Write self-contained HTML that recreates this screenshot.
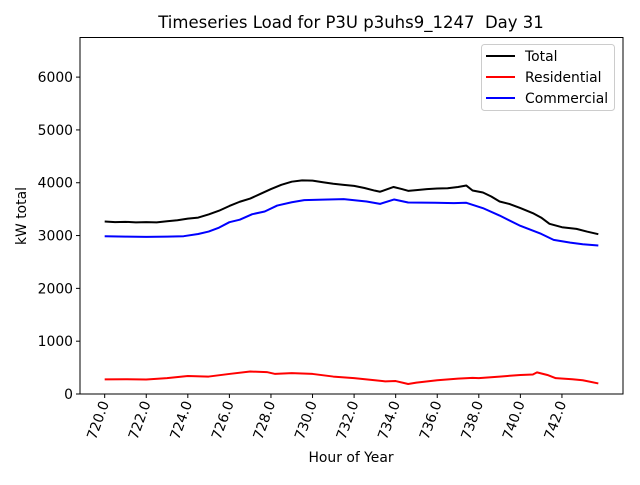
<!DOCTYPE html>
<html><head><meta charset="utf-8"><style>
body{margin:0;background:#fff}
svg{font-family:"DejaVu Sans","Liberation Sans",sans-serif}
</style></head><body>
<svg width="640" height="480" viewBox="0 0 640 480" xmlns="http://www.w3.org/2000/svg">
<rect width="640" height="480" fill="#fff"/>
<text x="351" y="28" font-size="16.5" text-anchor="middle" style="white-space:pre">Timeseries Load for P3U p3uhs9_1247&#160; Day 31</text>
<g id="plot"></g>
<text transform="translate(26,216) rotate(-90)" font-size="13.9" text-anchor="middle">kW total</text>
<text x="351" y="462" font-size="13.9" text-anchor="middle">Hour of Year</text>
<g>
<rect x="481.5" y="44.5" width="133" height="66" rx="3" fill="#fff" stroke="#ccc"/>
<g><line x1="486" y1="56" x2="515" y2="56" stroke="#000" stroke-width="2"/><text x="525" y="61" font-size="13.9">Total</text></g>
<g><line x1="486" y1="77" x2="515" y2="77" stroke="#f00" stroke-width="2"/><text x="525" y="82" font-size="13.9">Residential</text></g>
<g><line x1="486" y1="98" x2="515" y2="98" stroke="#00f" stroke-width="2"/><text x="525" y="103" font-size="13.9">Commercial</text></g>
</g>
</svg>
<script>
const totalHours=[720,720.5,721,721.5,722,722.5,723,723.5,724,724.5,725,725.5,726,726.5,727,727.5,728,728.5,729,729.5,730,730.5,731,731.5,732,732.5,733,733.25,733.9,734.3,734.6,735,735.5,736,736.5,737,737.4,737.7,738.2,738.6,739,739.5,740,740.6,741,741.4,742,742.7,743.2,743.75];
const totalValues=[3265,3255,3260,3250,3255,3250,3270,3290,3320,3340,3400,3470,3560,3640,3700,3790,3880,3960,4020,4045,4040,4010,3980,3960,3940,3900,3850,3830,3920,3880,3847,3860,3880,3890,3895,3920,3947,3853,3815,3740,3645,3595,3520,3424,3340,3222,3158,3127,3076,3026];
const commHours=[720,721,722,723,723.8,724.5,725,725.5,726,726.5,727.1,727.7,728.3,729,729.6,730.5,731.5,732.6,733.25,733.93,734.6,735.9,736.8,737.4,738.2,739,740,741,741.6,742.4,743,743.75];
const commValues=[2988,2980,2975,2980,2988,3030,3076,3150,3253,3300,3405,3455,3568,3630,3670,3680,3689,3645,3600,3683,3626,3620,3615,3620,3519,3379,3184,3032,2918,2867,2836,2811];
const resHours=[720,721,722,723,724,725,726,727,727.8,728.2,729,730,731,732,733,733.5,734,734.6,735,736,737,737.7,738,739,740,740.6,740.8,741.3,741.7,742.5,743,743.75];
const resValues=[277,280,275,300,340,330,380,425,415,380,395,380,330,300,260,240,245,190,215,260,290,305,300,330,360,370,410,360,300,280,260,200];
const xTicks=[720,722,724,726,728,730,732,734,736,738,740,742];
const yTicks=[0,1000,2000,3000,4000,5000,6000];
const X0=80,X1=623,Y0=394,Y1=37.5,XMIN=718.8125,XMAX=744.9375,YMIN=0,YMAX=6750;
function sx(h){return X0+(h-XMIN)/(XMAX-XMIN)*(X1-X0);}
function sy(v){return Y0-(v-YMIN)/(YMAX-YMIN)*(Y0-Y1);}
const NS='http://www.w3.org/2000/svg';
const g=document.getElementById('plot');
function mk(t,a,p){const e=document.createElementNS(NS,t);for(const k in a)e.setAttribute(k,a[k]);(p||g).appendChild(e);return e;}
function series(hs,vs,col,name){
  const d=hs.map((h,i)=>(i?'L':'M')+sx(h).toFixed(2)+','+sy(vs[i]).toFixed(2)).join('');
  const p=mk('path',{d:d,fill:'none',stroke:col,'stroke-width':2,'stroke-linejoin':'round'});
  
  
}
series(totalHours,totalValues,'#000','total-line');
series(resHours,resValues,'#f00','residential-line');
series(commHours,commValues,'#00f','commercial-line');
const frame=mk('rect',{x:X0,y:Y1,width:X1-X0,height:Y0-Y1,fill:'none',stroke:'#000','stroke-width':1});


xTicks.forEach(t=>{
  const x=sx(t);
  mk('line',{x1:x,y1:Y0,x2:x,y2:Y0+4,stroke:'#000'});
  const tx=mk('text',{'font-size':13.9,'text-anchor':'end',transform:'translate('+(x+4.5)+','+(Y0+9)+') rotate(-70)'});
  tx.textContent=t.toFixed(1);
  
  
});
yTicks.forEach(t=>{
  const y=sy(t);
  mk('line',{x1:X0-4,y1:y,x2:X0,y2:y,stroke:'#000'});
  const tx=mk('text',{x:X0-7,y:y+5,'font-size':13.9,'text-anchor':'end'});
  tx.textContent=t;
  
  
});
</script>
</body></html>
